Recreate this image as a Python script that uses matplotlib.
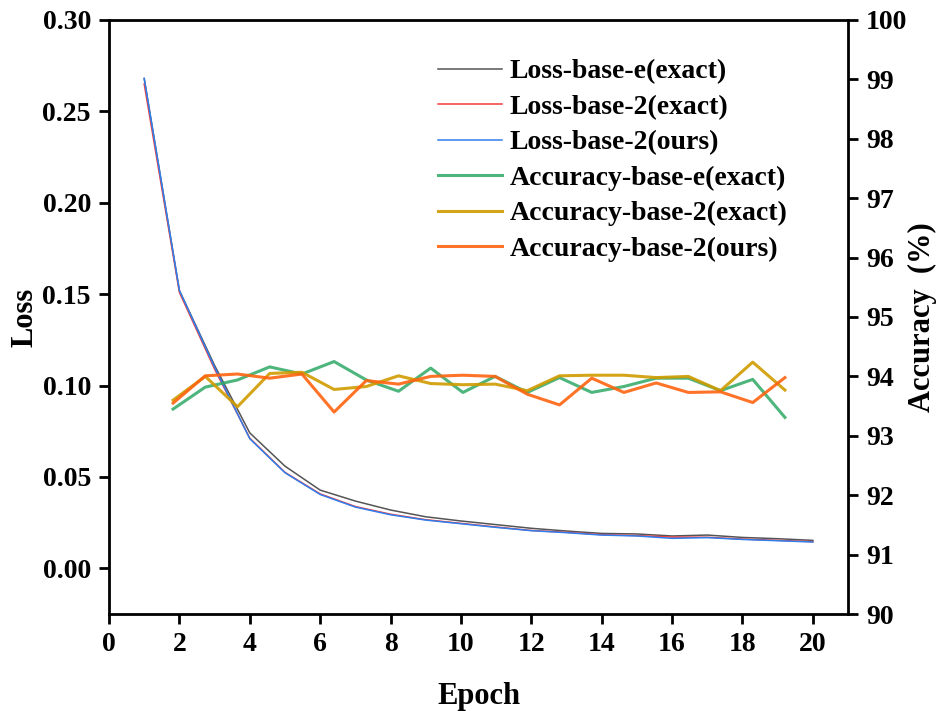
import numpy as np
import matplotlib
matplotlib.use("Agg")
import matplotlib.pyplot as plt

plt.rcParams["font.family"] = ["Liberation Serif", "DejaVu Serif"]
plt.rcParams["font.weight"] = "bold"

# --- data ---
epochs = list(range(1, 21))

loss_e_exact = [0.268, 0.152, 0.111, 0.0741, 0.0559, 0.0428, 0.0368, 0.0319, 0.0282, 0.0259,
                0.0239, 0.0219, 0.0204, 0.0191, 0.0188, 0.0177, 0.0182, 0.0169, 0.0162, 0.0153]
loss_2_exact = [0.265, 0.151, 0.109, 0.0712, 0.0525, 0.0407, 0.0338, 0.0296, 0.0266, 0.0246,
                0.0226, 0.0207, 0.0197, 0.0184, 0.0179, 0.0171, 0.0170, 0.0160, 0.0153, 0.0146]
loss_2_ours = [0.268, 0.152, 0.110, 0.0709, 0.0523, 0.0404, 0.0335, 0.0293, 0.0264, 0.0244,
               0.0224, 0.0206, 0.0195, 0.0182, 0.0177, 0.0164, 0.0168, 0.0158, 0.0151, 0.0144]

acc_e_exact = [93.45, 93.82, 93.94, 94.16, 94.04, 94.25, 93.94, 93.75, 94.14, 93.73,
               94.00, 93.73, 93.98, 93.73, 93.83, 93.97, 93.97, 93.76, 93.95, 93.31]
acc_2_exact = [93.60, 94.00, 93.49, 94.05, 94.07, 93.78, 93.83, 94.01, 93.88, 93.86,
               93.87, 93.76, 94.01, 94.02, 94.02, 93.98, 94.00, 93.76, 94.24, 93.77]
acc_2_ours = [93.55, 94.01, 94.04, 93.97, 94.04, 93.40, 93.93, 93.87, 94.00, 94.02,
              94.00, 93.70, 93.52, 93.97, 93.73, 93.89, 93.73, 93.74, 93.56, 93.98]

loss_ticks = [0.00, 0.05, 0.10, 0.15, 0.20, 0.25, 0.30]
acc_ticks = list(range(90, 101))
epoch_ticks = list(range(0, 21, 2))

fig = plt.figure(figsize=(9.43, 7.11), dpi=100)
ax = fig.add_axes([0.1156, 0.1364, 0.7837, 0.8355])
# accuracy curves live on their own x scale (shifted in the original figure)
ax2 = fig.add_axes(ax.get_position(), frameon=False)

l1, = ax.plot(epochs, loss_e_exact, color="#555555", lw=1.1, label="Loss-base-e(exact)")
l2, = ax.plot(epochs, loss_2_exact, color="#f03c3c", lw=1.1, label="Loss-base-2(exact)")
l3, = ax.plot(epochs, loss_2_ours, color="#2f7fef", lw=1.1, label="Loss-base-2(ours)")

a1, = ax2.plot(epochs, acc_e_exact, color="#2fa866", lw=2.2, alpha=0.85, label="Accuracy-base-e(exact)")
a2, = ax2.plot(epochs, acc_2_exact, color="#d09b00", lw=2.2, alpha=0.9, label="Accuracy-base-2(exact)")
a3, = ax2.plot(epochs, acc_2_ours, color="#ff6410", lw=2.2, alpha=0.9, label="Accuracy-base-2(ours)")

ax.set_xlim(0, 21)
ax.set_ylim(-0.025, 0.30)
ax.set_xticks(epoch_ticks)
ax.set_yticks(loss_ticks)
ax.set_yticklabels([f"{t:.2f}" for t in loss_ticks])
ax.tick_params(axis="both", direction="out", length=7, width=2, labelsize=20, pad=6)
ax.tick_params(axis="y", right=False)
for s in ax.spines.values():
    s.set_linewidth(2)
ax.set_xlabel("Epoch", fontsize=22, fontweight="bold", labelpad=18)
ax.set_ylabel("Loss", fontsize=22, fontweight="bold", labelpad=2)

ax2.set_xlim(-0.99, 21.96)
ax2.set_ylim(90, 100)
ax2.set_yticks(acc_ticks)
ax2.xaxis.set_visible(False)
ax2.yaxis.tick_right()
ax2.yaxis.set_label_position("right")
ax2.tick_params(axis="y", direction="out", length=7, width=2, labelsize=20, pad=6)
ax2.set_ylabel("Accuracy  (%)", fontsize=22, fontweight="bold", labelpad=0)

handles = [l1, l2, l3, a1, a2, a3]
fig.legend(handles, [h.get_label() for h in handles], loc="upper left",
           bbox_to_anchor=(0.465, 0.917), frameon=False,
           handlelength=2.3, handletextpad=0.25, labelspacing=0.36,
           borderpad=0, borderaxespad=0, prop={"weight": "bold", "size": 20})

fig.savefig("out.png", dpi=100)
